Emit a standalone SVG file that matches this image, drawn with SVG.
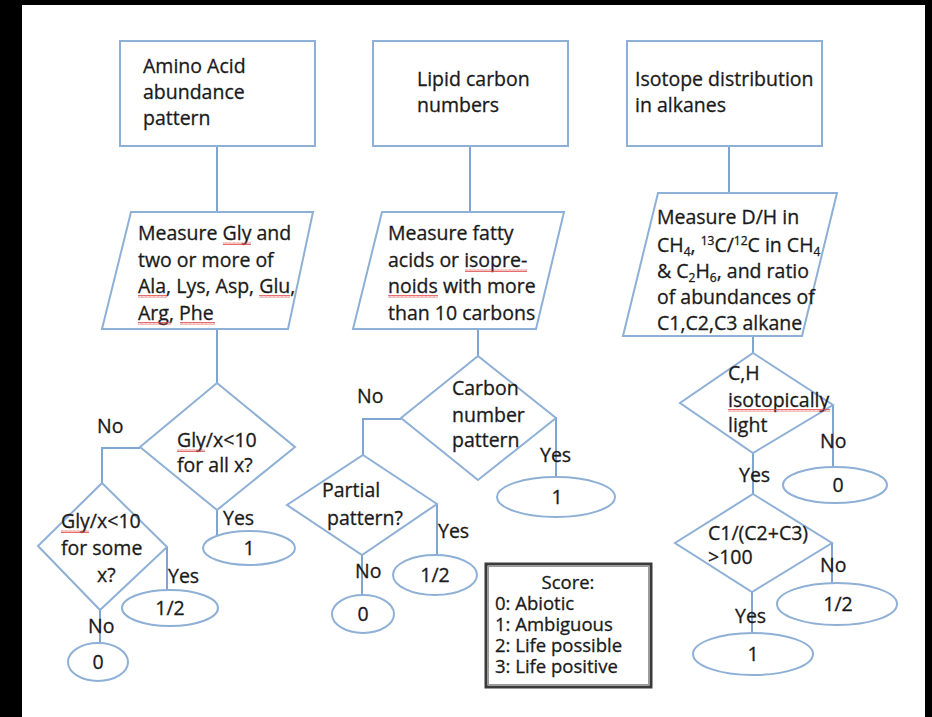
<svg xmlns="http://www.w3.org/2000/svg" width="932" height="717" viewBox="0 0 932 717">
<style>
.ln{fill:none;stroke:#7fa5d0;stroke-width:2}
.sh{fill:#fff;stroke:#8fb0d6;stroke-width:2}
.t{font-family:"Open Sans","Liberation Sans",sans-serif;font-size:19.5px;fill:#1a1a1a;stroke:#1a1a1a;stroke-width:0.3}
.c{text-anchor:middle}
.sub{font-size:12px}
.lg{font-size:18.5px}
.sq{fill:url(#wave)}
</style>
<defs>
<pattern id="wave" width="4" height="3" patternUnits="userSpaceOnUse">
<path d="M0,2.5 L1,0.5 L2,2.5 L3,0.5 L4,2.5" stroke="#e04848" fill="none" stroke-width="0.8"/>
</pattern>
</defs>
<rect width="932" height="717" fill="#000"/>
<rect x="22" y="5" width="903" height="712" fill="#fff"/>

<g id="connectors">
<line class="ln" x1="217" y1="146" x2="217" y2="212"/>
<line class="ln" x1="470" y1="146" x2="470" y2="212"/>
<line class="ln" x1="729" y1="146" x2="729" y2="193"/>
<line class="ln" x1="217" y1="329" x2="217" y2="383"/>
<line class="ln" x1="478" y1="329" x2="478" y2="356"/>
<line class="ln" x1="753" y1="336" x2="753" y2="353"/>
<polyline class="ln" points="140,448 102,448 102,483"/>
<line class="ln" x1="217" y1="510" x2="217" y2="537"/>
<line class="ln" x1="167" y1="547" x2="167" y2="590"/>
<line class="ln" x1="100" y1="610" x2="100" y2="643"/>
<polyline class="ln" points="401,419 363,419 363,455"/>
<line class="ln" x1="556" y1="417" x2="556" y2="477"/>
<line class="ln" x1="437" y1="504" x2="437" y2="555"/>
<line class="ln" x1="362" y1="555" x2="362" y2="595"/>
<line class="ln" x1="833" y1="405" x2="833" y2="467"/>
<line class="ln" x1="753" y1="453" x2="753" y2="494"/>
<line class="ln" x1="832" y1="543" x2="832" y2="583"/>
<line class="ln" x1="752" y1="592" x2="752" y2="633"/>
<text class="t" x="97" y="433">No</text>
<text class="t" x="223" y="525">Yes</text>
<text class="t" x="168" y="583">Yes</text>
<text class="t" x="88" y="633">No</text>
<text class="t" x="357" y="403">No</text>
<text class="t" x="540" y="462">Yes</text>
<text class="t" x="438" y="538">Yes</text>
<text class="t" x="355" y="578">No</text>
<text class="t" x="820" y="448">No</text>
<text class="t" x="739" y="482">Yes</text>
<text class="t" x="820" y="572">No</text>
<text class="t" x="735" y="623">Yes</text>
</g>

<g id="box-amino">
<rect class="sh" x="120" y="41" width="195" height="105"/>
<text class="t" x="143" y="73">Amino Acid</text>
<text class="t" x="143" y="99">abundance</text>
<text class="t" x="143" y="125">pattern</text>
</g>
<g id="box-lipid">
<rect class="sh" x="373" y="41" width="195" height="105"/>
<text class="t" x="417" y="86">Lipid carbon</text>
<text class="t" x="417" y="112">numbers</text>
</g>
<g id="box-isotope">
<rect class="sh" x="627" y="41" width="195" height="105"/>
<text class="t" x="635" y="86">Isotope distribution</text>
<text class="t" x="635" y="112">in alkanes</text>
</g>

<g id="measure-amino">
<polygon class="sh" points="131,212 313,212 288,329 102,329"/>
<text class="t" x="138" y="240">Measure Gly and</text>
<text class="t" x="138" y="267">two or more of</text>
<text class="t" x="138" y="293">Ala, Lys, Asp, Glu,</text>
<text class="t" x="138" y="320">Arg, Phe</text>
<rect class="sq" x="223" y="242" width="28" height="3"/>
<rect class="sq" x="138" y="295" width="29" height="3"/>
<rect class="sq" x="259" y="295" width="31" height="3"/>
<rect class="sq" x="138" y="322" width="33" height="3"/>
<rect class="sq" x="180" y="322" width="35" height="3"/>
</g>
<g id="measure-lipid">
<polygon class="sh" points="382,212 564,212 536,329 353,329"/>
<text class="t" x="388" y="240">Measure fatty</text>
<text class="t" x="388" y="267">acids or isopre-</text>
<text class="t" x="388" y="293">noids with more</text>
<text class="t" x="388" y="320">than 10 carbons</text>
<rect class="sq" x="465" y="269" width="62" height="3"/>
<rect class="sq" x="388" y="295" width="50" height="3"/>
</g>
<g id="measure-isotope">
<polygon class="sh" points="658,193 837,193 802,336 623,336"/>
<text class="t" x="657" y="224">Measure D/H in</text>
<text class="t" x="657" y="252">CH<tspan class="sub" dy="4">4</tspan><tspan dy="-4">, </tspan><tspan class="sub" dy="-7">13</tspan><tspan dy="7">C/</tspan><tspan class="sub" dy="-7">12</tspan><tspan dy="7">C in CH</tspan><tspan class="sub" dy="4">4</tspan></text>
<text class="t" x="657" y="278">&amp; C<tspan class="sub" dy="4">2</tspan><tspan dy="-4">H</tspan><tspan class="sub" dy="4">6</tspan><tspan dy="-4">, and ratio</tspan></text>
<text class="t" x="657" y="304">of abundances of</text>
<text class="t" x="657" y="330">C1,C2,C3 alkane</text>
</g>

<g id="dec-gly-all">
<polygon class="sh" points="217,383 295,447 217,510 140,447"/>
<text class="t" x="177" y="447">Gly/x&lt;10</text>
<text class="t" x="177" y="472">for all x?</text>
<rect class="sq" x="177" y="449" width="28" height="3"/>
</g>
<g id="dec-gly-some">
<polygon class="sh" points="102,483 167,547 100,610 38,546"/>
<text class="t" x="61" y="528">Gly/x&lt;10</text>
<text class="t" x="61" y="555">for some</text>
<text class="t" x="97" y="582">x?</text>
<rect class="sq" x="61" y="530" width="28" height="3"/>
</g>
<g id="dec-carbon">
<polygon class="sh" points="478,356 556,418 478,480 401,418"/>
<text class="t" x="452" y="395">Carbon</text>
<text class="t" x="452" y="422">number</text>
<text class="t" x="452" y="447">pattern</text>
</g>
<g id="dec-partial">
<polygon class="sh" points="363,455 437,504 362,555 287,505"/>
<text class="t" x="322" y="497">Partial</text>
<text class="t" x="327" y="525">pattern?</text>
</g>
<g id="dec-light">
<polygon class="sh" points="753,353 833,405 753,453 680,403"/>
<text class="t" x="728" y="380">C,H</text>
<text class="t" x="728" y="407">isotopically</text>
<text class="t" x="728" y="432">light</text>
<rect class="sq" x="728" y="409" width="102" height="3"/>
</g>
<g id="dec-ratio">
<polygon class="sh" points="753,494 832,543 752,592 675,543"/>
<text class="t" x="708" y="540">C1/(C2+C3)</text>
<text class="t" x="708" y="564">&gt;100</text>
</g>

<g id="score-a1"><ellipse class="sh" cx="249" cy="548" rx="46" ry="17"/><text class="t c" x="249" y="555">1</text></g>
<g id="score-a2"><ellipse class="sh" cx="170" cy="608" rx="48" ry="18"/><text class="t c" x="170" y="615">1/2</text></g>
<g id="score-a3"><ellipse class="sh" cx="98" cy="662" rx="30" ry="19"/><text class="t c" x="98" y="669">0</text></g>
<g id="score-l1"><ellipse class="sh" cx="556" cy="497" rx="59" ry="20"/><text class="t c" x="557" y="504">1</text></g>
<g id="score-l2"><ellipse class="sh" cx="435" cy="575" rx="42" ry="20"/><text class="t c" x="435" y="582">1/2</text></g>
<g id="score-l3"><ellipse class="sh" cx="363" cy="614" rx="31" ry="19"/><text class="t c" x="363" y="621">0</text></g>
<g id="score-i1"><ellipse class="sh" cx="835" cy="485" rx="52" ry="18"/><text class="t c" x="838" y="492">0</text></g>
<g id="score-i2"><ellipse class="sh" cx="837" cy="604" rx="60" ry="21"/><text class="t c" x="838" y="611">1/2</text></g>
<g id="score-i3"><ellipse class="sh" cx="753" cy="654" rx="60" ry="21"/><text class="t c" x="753" y="661">1</text></g>

<g id="legend">
<rect x="486" y="564" width="165" height="123" fill="#fff" stroke="#3a3a3a" stroke-width="3"/>
<rect x="488.5" y="566.5" width="160" height="118" fill="none" stroke="#9a9a9a" stroke-width="1"/>
<text class="t lg c" x="568" y="589">Score:</text>
<text class="t lg" x="495" y="610">0: Abiotic</text>
<text class="t lg" x="495" y="631">1: Ambiguous</text>
<text class="t lg" x="495" y="652">2: Life possible</text>
<text class="t lg" x="495" y="673">3: Life positive</text>
</g>
</svg>
